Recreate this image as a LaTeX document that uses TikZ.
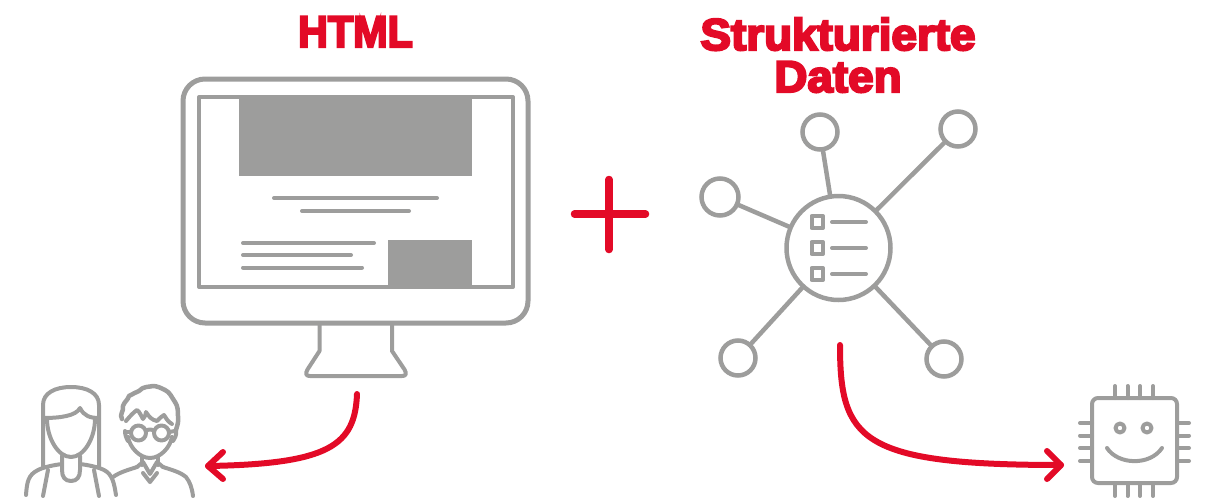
\documentclass[tikz,border=0pt]{standalone}
\usepackage{fontspec}
\newfontfamily\titlefont[FakeBold=5,FakeStretch=1.03]{Liberation Sans Bold}
\definecolor{grayline}{HTML}{9D9D9C}
\definecolor{redmark}{HTML}{E30A27}
\tikzset{
  x=1pt,y=-1pt,
  gl/.style={draw=grayline,line width=#1,line cap=round,line join=round},
  gl/.default=4pt,
  block/.style={fill=grayline,draw=none},
  sat/.style={circle,draw=grayline,line width=4.5pt,minimum size=#1,inner sep=0pt,outer sep=0pt},
  link/.style={draw=grayline,line width=4.5pt},
  redline/.style={draw=redmark,line width=6pt,line cap=round,line join=round},
  title/.style={text=redmark,font=\titlefont\fontsize{44.5pt}{42pt}\selectfont,inner sep=0pt,anchor=base}
}
\begin{document}
\begin{tikzpicture}
\useasboundingbox (0,0) rectangle (1208,498);
% titles
\node[title] (t1) at (355.5,47) {\scalebox{.9}[1]{HTML}};
\node[title] (t2) at (838,50) {Strukturierte};
\node[title] (t3) at (838,92) {Daten};
% monitor
\draw[gl=5pt,rounded corners=22pt] (183,79) rectangle (528,323);
\draw[gl=4pt] (199,97) rectangle (513,287);
\fill[block] (239,96) rectangle (472,176);
\fill[block] (388,240) rectangle (472,289);
\draw[gl] (274,198) -- (437,198);
\draw[gl] (302,211) -- (409,211);
\draw[gl] (243,243) -- (374,243);
\draw[gl] (243,255) -- (351,255);
\draw[gl] (243,267.5) -- (362,267.5);
\draw[gl] (319.5,325) -- (319.5,351) -- (307.5,369.5) .. controls (305,374) and (306,376) .. (310,376) -- (402,376) .. controls (406,376) and (407,374) .. (404.5,369.5) -- (392,351) -- (392,325);
% plus
\coordinate (pl) at (574.5,214); \coordinate (pr) at (645.5,214);
\coordinate (pt) at (609,179.5); \coordinate (pb) at (609,249.5);
\draw[redline,line width=7.5pt] (pl) -- (pr);
\draw[redline,line width=7.5pt] (pt) -- (pb);
% network
\node[sat=104pt] (hub) at (838.5,248) {};
\node[sat=35pt] (n1) at (820,132) {};
\node[sat=35pt] (n2) at (958,129) {};
\node[sat=37pt] (n3) at (720,197) {};
\node[sat=35pt] (n4) at (738,358) {};
\node[sat=35pt] (n5) at (944,359) {};
\foreach \n in {n1,n2,n3,n4,n5} \draw[link] (hub) -- (\n);
\foreach \y in {222,248,274}{
  \draw[gl=4pt] (811.5,\y-6) rectangle (823,\y+6);
  \draw[gl=4pt] (832,\y) -- (866,\y);
}
% arrows
\coordinate (a1s) at (357,394); \coordinate (a1e) at (208,466);
\draw[redline] (a1s) .. controls (355,445) and (330,464) .. (a1e);
\draw[redline] (223,452) -- (a1e) -- (223,479);
\coordinate (a2s) at (840,345); \coordinate (a2e) at (1061,465);
\draw[redline] (a2s) .. controls (840,440) and (860,465) .. (a2e);
\draw[redline] (1047,451) -- (a2e) -- (1047,479);
% chip
\draw[gl=4pt,rounded corners=6pt] (1092,398) rectangle (1177,483);
\foreach \x in {1115,1127.5,1140,1153}{
  \draw[gl=4pt] (\x,386) -- (\x,398);
  \draw[gl=4pt] (\x,483) -- (\x,496);
}
\foreach \y in {423,435.5,448,461}{
  \draw[gl=4pt] (1080,\y) -- (1092,\y);
  \draw[gl=4pt] (1177,\y) -- (1189,\y);
}
\draw[gl=4pt] (1120,428) circle[radius=4.5];
\draw[gl=4pt] (1147,428) circle[radius=4.5];
\draw[gl=4pt] (1107,448) .. controls (1118,465) and (1150,466) .. (1162,448);
% woman
\begin{scope}[every path/.append style={gl=4pt}]
\draw (43,467) -- (43,405) .. controls (43,393) and (55,387) .. (71,387) .. controls (87,387) and (99,393) .. (99,405) -- (99,467);
\draw (43,418) .. controls (60,418) and (76,416) .. (80,408) .. controls (84,416) and (90,418) .. (99,418);
\draw (47,419) .. controls (47,438) and (58,457) .. (71,457) .. controls (84,457) and (95,438) .. (95,419);
\draw (62,456) -- (62,470) .. controls (62,477) and (65,481) .. (71,481) .. controls (77,481) and (80,477) .. (80,470) -- (80,456);
\draw (26,495) .. controls (27,482) and (28,475) .. (38,470) .. controls (44,467) and (54,465) .. (62,464);
\draw (80,464) .. controls (88,465) and (98,467) .. (104,470) .. controls (112,474) and (114,482) .. (116,495);
\draw (48,470) -- (43,496);
\draw (94,470) -- (99,496);
\end{scope}
% man
\begin{scope}[every path/.append style={gl=4pt}]
\draw (113,477) .. controls (120,472) and (128,470) .. (137,467);
\draw (163,467) .. controls (172,470) and (180,472) .. (186,477) .. controls (190,482) and (192,488) .. (193,496);
\draw (128,437) .. controls (130,448) and (140,458) .. (150,458) .. controls (160,458) and (170,448) .. (172,437);
\draw (142,457) -- (142,465);
\draw (158,457) -- (158,465);
\draw (137,467) -- (143,462) -- (150,474) -- (157,462) -- (163,467);
\draw (143,473) -- (150,482) -- (157,473);
\draw[line width=4.5pt] (122,419) .. controls (119,414) and (124,412) .. (123,406) .. controls (124,402) and (128,400) .. (129,396) .. controls (133,394) and (136,392) .. (139,391) .. controls (143,386) and (150,387) .. (153,386) .. controls (157,386) and (161,388) .. (165,390) .. controls (170,392) and (172,398) .. (175,402) .. controls (178,406) and (178,412) .. (178,416) .. controls (179,422) and (177,426) .. (176,430);
\draw (126,421) .. controls (130,416) and (134,412) .. (137,410) .. controls (140,412) and (141,416) .. (143,419) .. controls (145,417) and (146,414) .. (146,412) .. controls (149,417) and (152,420) .. (157,421) .. controls (160,418) and (162,416) .. (164,415) .. controls (166,418) and (168,422) .. (172,424);
\draw (138.5,433) circle[radius=7.5];
\draw (161.5,433) circle[radius=7.5];
\draw (146,431) .. controls (148,429) and (152,429) .. (154,431);
\draw (126,432) -- (131,432);
\draw (169,432) -- (175,431);
\draw (125,431) .. controls (125,434) and (126,438) .. (128,441);
\draw (176,431) .. controls (177,434) and (175,438) .. (173,441);
\end{scope}
\end{tikzpicture}
\end{document}
